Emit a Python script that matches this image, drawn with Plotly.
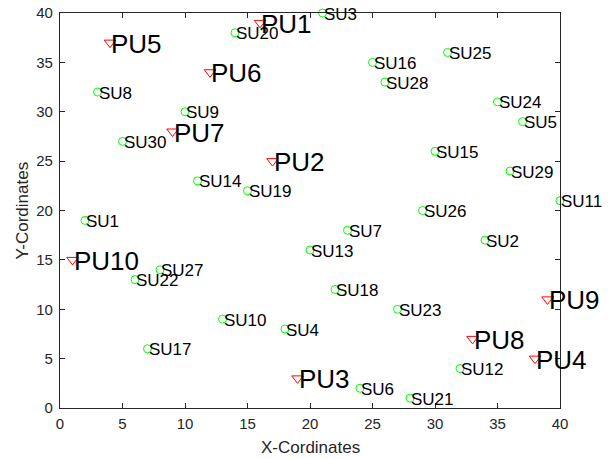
import plotly.graph_objects as go

# Primary users
pu_names = ["PU1", "PU2", "PU3", "PU4", "PU5", "PU6", "PU7", "PU8", "PU9", "PU10"]
pu_x = [16, 17, 19, 38, 4, 12, 9, 33, 39, 1]
pu_y = [39, 25, 3, 5, 37, 34, 28, 7, 11, 15]

# Secondary users
su_names = ["SU%d" % i for i in range(1, 31)]
su_x = [2, 34, 21, 18, 37, 24, 23, 3, 10, 13, 40, 32, 20, 11, 30,
        25, 7, 22, 15, 14, 28, 6, 27, 35, 31, 29, 8, 26, 36, 5]
su_y = [19, 17, 40, 8, 29, 2, 18, 32, 30, 9, 21, 4, 16, 23, 26,
        35, 6, 12, 22, 38, 1, 13, 10, 31, 36, 20, 14, 33, 24, 27]

ticks = [0, 5, 10, 15, 20, 25, 30, 35, 40]
FONT = "Arial, Liberation Sans, Helvetica, sans-serif"
AX = "#262626"

fig = go.Figure()
fig.add_trace(go.Scatter(
    x=su_x, y=su_y, mode="markers", cliponaxis=False,
    marker=dict(symbol="circle-open", size=8, color="#00ff00", line=dict(width=1, color="#00ff00")),
    showlegend=False, hoverinfo="skip"))
fig.add_trace(go.Scatter(
    x=pu_x, y=pu_y, mode="markers", cliponaxis=False,
    marker=dict(symbol="triangle-down-open", size=10, color="#ff0000", line=dict(width=1, color="#ff0000")),
    showlegend=False, hoverinfo="skip"))

annotations = []
for n, x, y in zip(su_names, su_x, su_y):
    annotations.append(dict(x=x, y=y, text=n, showarrow=False, xanchor="left", yanchor="middle",
                            xshift=-1, yshift=-1, font=dict(family=FONT, size=17, color="black")))
for n, x, y in zip(pu_names, pu_x, pu_y):
    annotations.append(dict(x=x, y=y, text=n, showarrow=False, xanchor="left", yanchor="middle",
                            xshift=-1, yshift=-1, font=dict(family=FONT, size=26, color="black")))
annotations.append(dict(x=0.5, y=0, xref="paper", yref="paper", text="X-Cordinates", showarrow=False,
                        xanchor="center", yanchor="middle", yshift=-39, font=dict(family=FONT, size=17, color=AX)))
annotations.append(dict(x=0, y=0.5, xref="paper", yref="paper", text="Y-Cordinates", showarrow=False,
                        xanchor="center", yanchor="middle", xshift=-38, textangle=-90,
                        font=dict(family=FONT, size=17, color=AX)))

axis_common = dict(range=[0, 40], tickvals=ticks, ticks="inside", ticklen=5, tickwidth=1.3, tickcolor=AX,
                   showline=True, linecolor=AX, linewidth=1.3, mirror="ticks", showgrid=False,
                   zeroline=False, ticklabeloverflow="allow",
                   tickfont=dict(family=FONT, size=15, color=AX))

fig.update_layout(
    width=612, height=459,
    margin=dict(l=60, r=52, t=13, b=51, autoexpand=False),
    paper_bgcolor="white", plot_bgcolor="white",
    xaxis=dict(**axis_common, ticklabelstandoff=2),
    yaxis=dict(**axis_common, ticklabelstandoff=3),
    annotations=annotations,
)
fig.write_html("out.html", config={"displayModeBar": False},
               post_script="document.body.style.margin='0';")
